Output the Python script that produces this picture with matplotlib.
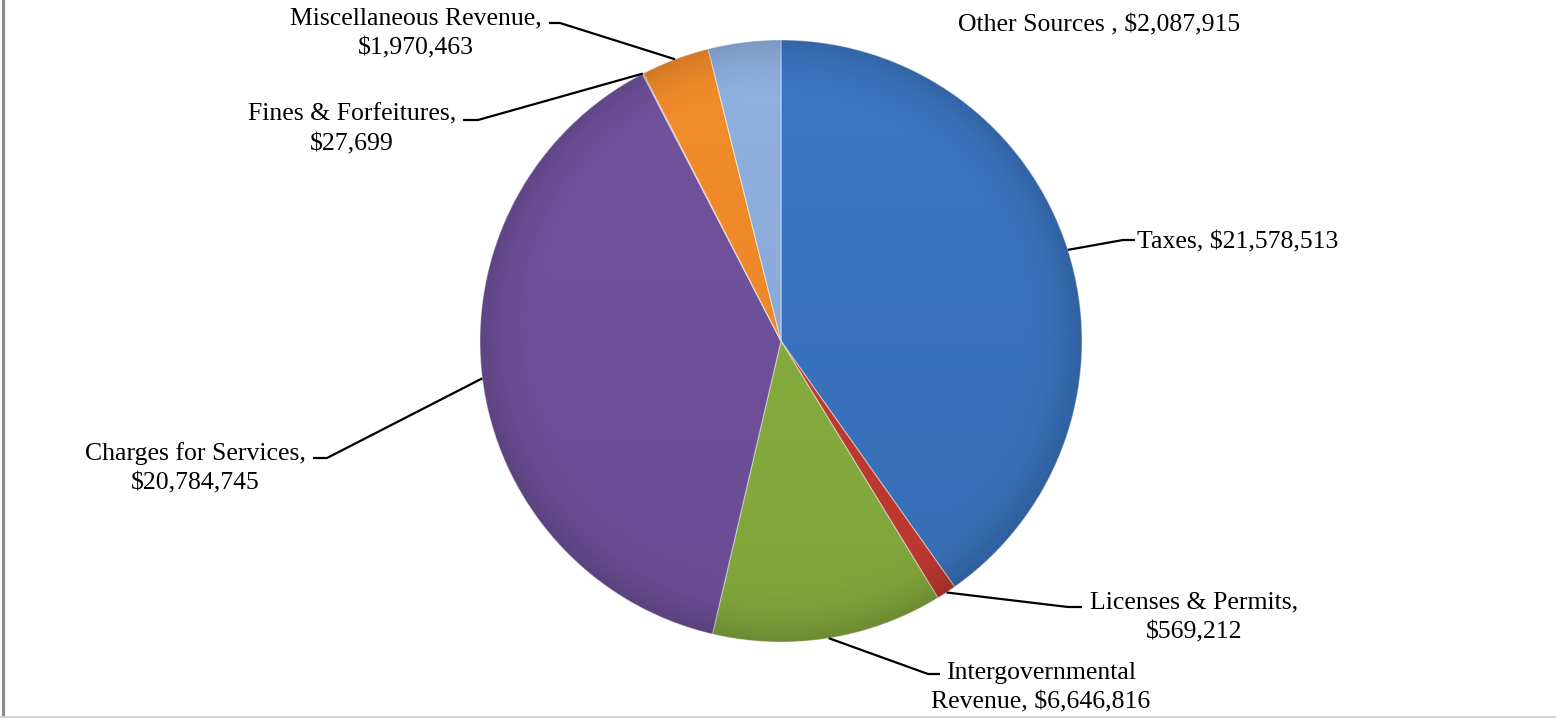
import numpy as np
import matplotlib.pyplot as plt

W, H = 1556, 719

# revenue by source, clockwise from 12 o'clock
sources = ["Taxes", "Licenses & Permits", "Intergovernmental\nRevenue",
           "Charges for Services", "Fines & Forfeitures",
           "Miscellaneous Revenue", "Other Sources "]
amounts = [21578513, 569212, 6646816, 20784745, 27699, 1970463, 2087915]
seps = [", ", ",\n", ", ", ",\n", ",\n", ",\n", ", "]
colors = ["#3B76C2", "#C63C32", "#89B040", "#72529E", "#8B5A8C", "#F48D2A", "#8FB1E0"]

labels = [s + sep + "${:,}".format(v) for s, sep, v in zip(sources, seps, amounts)]

# text anchor (x, baseline of last line) in pixels from top-left, and alignment
text_pos = [(1137, 248, "left"), (1194, 638, "center"), (1041, 708, "center"),
            (195, 489, "center"), (352, 150, "center"), (416, 54, "center"),
            (958, 31, "left")]
# leader: elbow point and end of the short horizontal tick
leaders = [((1123, 240), (1135, 240)),
           ((1068, 607), (1082, 607)),
           ((928, 674), (940, 674)),
           ((327, 458), (313, 458)),
           ((478, 120), (463, 120)),
           ((560, 23), (549, 23)),
           None]

cx, cy, r = 781, 341, 301


def py(y):
    return H - y


fig = plt.figure(figsize=(W / 100, H / 100), dpi=100)
ax = fig.add_axes([0, 0, 1, 1])
wedges, _ = ax.pie(amounts, colors=colors, startangle=90, counterclock=False,
                   center=(cx, py(cy)), radius=r,
                   wedgeprops=dict(linewidth=0.8, edgecolor=(1, 1, 1, 0.5)))

# shading over the disc: darker towards the bottom and along the rim
n = 400
yy, xx = np.mgrid[-1:1:n * 1j, -1:1:n * 1j]
rr = np.sqrt(xx ** 2 + yy ** 2)
shade = np.zeros((n, n, 4))
a = 0.14 * np.clip((rr - 0.8) / 0.2, 0, 1) ** 2 + 0.07 * (yy + 1) / 2
shade[..., 3] = np.clip(a, 0, 1)
img = ax.imshow(shade, extent=(cx - r, cx + r, py(cy) - r, py(cy) + r),
                origin="upper", zorder=2, interpolation="bilinear")
clip = plt.Circle((cx, py(cy)), r, transform=ax.transData)
img.set_clip_path(clip)

for w, lab, (tx, ty, ha), ld in zip(wedges, labels, text_pos, leaders):
    ax.text(tx, py(ty), lab, ha=ha, va="baseline", multialignment="center",
            family="Liberation Serif", fontsize=18.5, linespacing=1.42, zorder=4)
    if ld is None:
        continue
    mid = np.deg2rad((w.theta1 + w.theta2) / 2)
    ax_x = cx + r * np.cos(mid)
    ax_y = py(cy) + r * np.sin(mid)
    (ex, ey), (hx, hy) = ld
    ax.plot([ax_x, ex, hx], [ax_y, py(ey), py(hy)], color="black", lw=1.6,
            solid_capstyle="butt", zorder=3)

ax.set_xlim(0, W)
ax.set_ylim(0, H)
ax.axis("off")

# chart frame: grey left edge and faint bottom rule
fig.add_artist(plt.Line2D([2.5 / W, 2.5 / W], [3 / H, 1], color="#8A8A8A", lw=2.2))
fig.add_artist(plt.Line2D([0, 1], [2 / H, 2 / H], color="#D4D4D4", lw=1.5))

fig.savefig("out.png", dpi=100, facecolor="white")
